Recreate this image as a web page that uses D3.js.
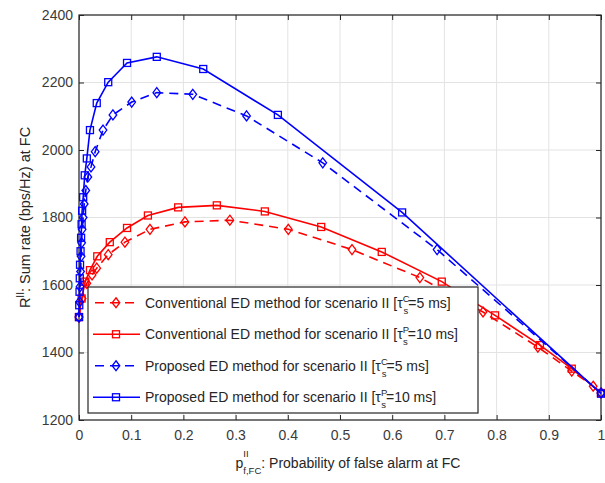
<!DOCTYPE html>
<html>
<head>
<meta charset="utf-8">
<script src="https://cdn.jsdelivr.net/npm/d3@7/dist/d3.min.js"></script>
<style>
  html, body { margin: 0; padding: 0; background: #fff; }
  svg { display: block; }
  text { font-family: "Liberation Sans", Arial, Helvetica, sans-serif; }
</style>
</head>
<body>
<svg id="chart" width="605" height="483"></svg>
<script>
// Probability of false alarm at FC (x) and sum rate at FC (y) for each method
const convShortX = [0, 0.006, 0.015, 0.025, 0.034, 0.056, 0.088, 0.136, 0.203, 0.289, 0.401, 0.523, 0.653, 0.774, 0.879, 0.944, 0.985, 1.0];
const convShortY = [1505, 1560, 1605, 1630, 1650, 1690, 1727, 1765, 1787, 1792, 1765, 1705, 1622, 1520, 1416, 1345, 1300, 1280];

const convLongX = [0, 0.005, 0.012, 0.021, 0.035, 0.059, 0.092, 0.132, 0.19, 0.264, 0.356, 0.464, 0.58, 0.695, 0.797, 0.883, 0.944, 1.0];
const convLongY = [1505, 1560, 1610, 1644, 1685, 1727, 1769, 1806, 1830, 1836, 1818, 1772, 1698, 1610, 1510, 1422, 1352, 1280];

const propShortX = [0, 0.001, 0.002, 0.003, 0.004, 0.005, 0.006, 0.008, 0.01, 0.013, 0.017, 0.023, 0.031, 0.046, 0.065, 0.101, 0.149, 0.218, 0.321, 0.467, 0.686, 1.0];
const propShortY = [1505, 1550, 1595, 1640, 1685, 1725, 1765, 1800, 1840, 1880, 1920, 1950, 1995, 2059, 2104, 2142, 2170, 2165, 2101, 1962, 1705, 1280];

const propLongX = [0, 0.0005, 0.001, 0.0015, 0.002, 0.003, 0.004, 0.005, 0.006, 0.008, 0.011, 0.015, 0.021, 0.034, 0.056, 0.092, 0.149, 0.238, 0.381, 0.619, 1.0];
const propLongY = [1505, 1540, 1580, 1620, 1660, 1700, 1740, 1780, 1820, 1860, 1925, 1975, 2059, 2139, 2201, 2258, 2276, 2240, 2104, 1815, 1278];

const xTicks = [0, 0.1, 0.2, 0.3, 0.4, 0.5, 0.6, 0.7, 0.8, 0.9, 1];
const yTicks = [1200, 1400, 1600, 1800, 2000, 2200, 2400];

const seriesNames = [
  "Conventional ED method for scenario II [",
  "Conventional ED method for scenario II [",
  "Proposed ED method for scenario II [",
  "Proposed ED method for scenario II ["
];
const seriesSup = ["C", "P", "C", "P"];
const seriesDur = ["=5 ms]", "=10 ms]", "=5 ms]", "=10 ms]"];

const series = [
  { x: convShortX, y: convShortY, color: "#ff0000", dashed: true, marker: "diamond" },
  { x: convLongX, y: convLongY, color: "#ff0000", dashed: false, marker: "square" },
  { x: propShortX, y: propShortY, color: "#0000ff", dashed: true, marker: "diamond" },
  { x: propLongX, y: propLongY, color: "#0000ff", dashed: false, marker: "square" }
];

const svg = d3.select("#chart");
const L = 79, R = 601, T = 15, B = 420;
const x = d3.scaleLinear().domain([0, 1]).range([L, R]);
const y = d3.scaleLinear().domain([1200, 2400]).range([B, T]);

// grid
const grid = svg.append("g");
grid.selectAll("line.gx").data(xTicks).join("line")
  .attr("x1", d => x(d)).attr("x2", d => x(d)).attr("y1", T).attr("y2", B)
  .attr("stroke", "#e3e3e3").attr("stroke-width", 1);
grid.selectAll("line.gy").data(yTicks).join("line")
  .attr("y1", d => y(d)).attr("y2", d => y(d)).attr("x1", L).attr("x2", R)
  .attr("stroke", "#e3e3e3").attr("stroke-width", 1);

// axes with inward ticks
const xAxis = svg.append("g").attr("transform", `translate(0,${B})`)
  .call(d3.axisBottom(x).tickValues(xTicks).tickFormat(d3.format("~g")).tickSizeInner(-5).tickSizeOuter(0).tickPadding(10));
const yAxis = svg.append("g").attr("transform", `translate(${L},0)`)
  .call(d3.axisLeft(y).tickValues(yTicks).tickFormat(d3.format("d")).tickSizeInner(-5).tickSizeOuter(0).tickPadding(6));
[xAxis, yAxis].forEach(g => {
  g.select(".domain").remove();
  g.selectAll("line").attr("stroke", "#262626");
  g.selectAll("text").attr("fill", "#3a3a3a").attr("font-size", 14);
});
// top/right ticks
svg.append("g").attr("transform", `translate(0,${T})`)
  .call(d3.axisTop(x).tickValues(xTicks).tickSizeInner(-5).tickSizeOuter(0).tickFormat(""))
  .call(g => { g.select(".domain").remove(); g.selectAll("line").attr("stroke", "#262626"); });
svg.append("g").attr("transform", `translate(${R},0)`)
  .call(d3.axisRight(y).tickValues(yTicks).tickSizeInner(-5).tickSizeOuter(0).tickFormat(""))
  .call(g => { g.select(".domain").remove(); g.selectAll("line").attr("stroke", "#262626"); });

// plot box
svg.append("rect").attr("x", L).attr("y", T).attr("width", R - L).attr("height", B - T)
  .attr("fill", "none").attr("stroke", "#262626").attr("stroke-width", 1.2);

const line = d3.line().x(d => x(d[0])).y(d => y(d[1]));

function drawMarker(g, kind, cx, cy, color) {
  if (kind === "square") {
    g.append("rect").attr("x", cx - 3.5).attr("y", cy - 3.5).attr("width", 7).attr("height", 7)
      .attr("fill", "none").attr("stroke", color).attr("stroke-width", 1.3);
  } else {
    g.append("path").attr("d", `M${cx},${cy - 5}L${cx + 3.8},${cy}L${cx},${cy + 5}L${cx - 3.8},${cy}Z`)
      .attr("fill", "none").attr("stroke", color).attr("stroke-width", 1.3);
  }
}

const plot = svg.append("g");
series.forEach(s => {
  const pts = s.x.map((v, i) => [v, s.y[i]]);
  plot.append("path").attr("d", line(pts)).attr("fill", "none")
    .attr("stroke", s.color).attr("stroke-width", 1.6)
    .attr("stroke-dasharray", s.dashed ? "9,6" : null);
  pts.forEach(p => drawMarker(plot, s.marker, x(p[0]), y(p[1]), s.color));
});

// legend
const lg = svg.append("g");
const lx0 = 88, ly0 = 287, lw = 390, lh = 126;
lg.append("rect").attr("x", lx0).attr("y", ly0).attr("width", lw).attr("height", lh)
  .attr("fill", "#fff").attr("stroke", "#262626").attr("stroke-width", 1.2);
series.forEach((s, i) => {
  const cy = ly0 + lh / 4 * (i + 0.5);
  lg.append("line").attr("x1", lx0 + 5).attr("x2", lx0 + 52).attr("y1", cy).attr("y2", cy)
    .attr("stroke", s.color).attr("stroke-width", 1.6)
    .attr("stroke-dasharray", s.dashed ? "9,6" : null)
    .attr("stroke-dashoffset", s.dashed ? -2 : 0);
  drawMarker(lg, s.marker, lx0 + 28, cy, s.color);
  const t = lg.append("text").attr("x", lx0 + 57).attr("y", cy + 5).attr("font-size", 14).attr("fill", "#262626");
  t.append("tspan").text(seriesNames[i] + "\u03C4");
  t.append("tspan").attr("font-size", 9.5).attr("dy", -6).text(seriesSup[i]);
  t.append("tspan").attr("font-size", 9.5).attr("dx", -6).attr("dy", 12).text("s");
  t.append("tspan").attr("dy", -6).text(seriesDur[i]);
});

// y axis label
const yl = svg.append("text").attr("transform", `translate(30,${(T + B) / 2}) rotate(-90)`)
  .attr("text-anchor", "middle").attr("font-size", 14.5).attr("fill", "#262626");
yl.append("tspan").text("R");
yl.append("tspan").attr("font-size", 10).attr("dy", -6).text("II");
yl.append("tspan").attr("dy", 6).text(": Sum rate (bps/Hz) at FC");

// x axis label: p with superscript II stacked over subscript f,FC
const xl = svg.append("text").attr("x", (L + R) / 2 + 8).attr("y", 468)
  .attr("text-anchor", "middle").attr("font-size", 14).attr("fill", "#262626");
xl.append("tspan").text("p");
xl.append("tspan").attr("font-size", 9.5).attr("dy", 6).text("f,FC");
xl.append("tspan").attr("dy", -6).text(": Probability of false alarm at FC");
const pBox = xl.node().firstChild.getComputedTextLength();
const xlStart = xl.node().getStartPositionOfChar(0).x;
svg.append("text").attr("x", xlStart + pBox).attr("y", 457)
  .attr("font-size", 9.5).attr("fill", "#262626").text("II");
</script>
</body>
</html>
